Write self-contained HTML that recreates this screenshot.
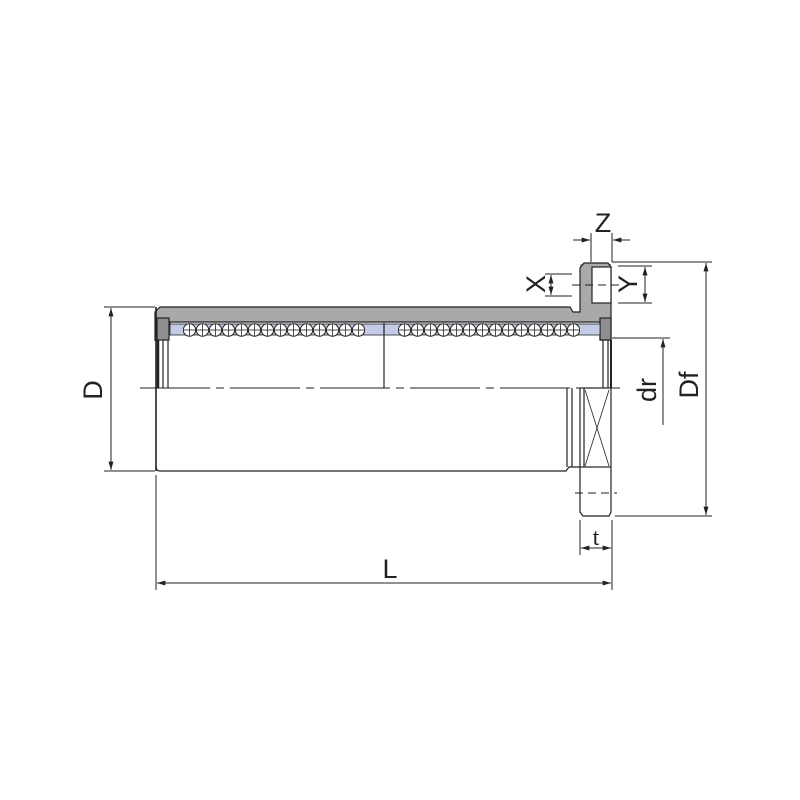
<!DOCTYPE html>
<html><head><meta charset="utf-8"><style>body{margin:0;background:#fff}svg{display:block}</style></head>
<body>
<svg width="800" height="800" viewBox="0 0 800 800" xmlns="http://www.w3.org/2000/svg" font-family="Liberation Sans, sans-serif">
<defs>
<pattern id="balls" x="183" y="323" width="13" height="14" patternUnits="userSpaceOnUse">
<circle cx="6.5" cy="7" r="6.2" fill="#fff" stroke="#222" stroke-width="1"/>
<line x1="6.5" y1="1" x2="6.5" y2="13" stroke="#222" stroke-width="0.8"/>
<line x1="0.5" y1="7" x2="12.5" y2="7" stroke="#222" stroke-width="0.8"/>
</pattern>
<pattern id="balls2" x="398" y="323" width="13" height="14" patternUnits="userSpaceOnUse">
<circle cx="6.5" cy="7" r="6.2" fill="#fff" stroke="#222" stroke-width="1"/>
<line x1="6.5" y1="1" x2="6.5" y2="13" stroke="#222" stroke-width="0.8"/>
<line x1="0.5" y1="7" x2="12.5" y2="7" stroke="#222" stroke-width="0.8"/>
</pattern>
<marker id="a" viewBox="0 0 10 6" refX="10" refY="3" markerWidth="9" markerHeight="5" orient="auto-start-reverse"><path d="M0,0 L10,3 L0,6 z" fill="#222"/></marker>
</defs>
<g stroke="#222" stroke-width="1.2" fill="none">
<rect x="580" y="264" width="31" height="58" fill="#a9a9ab" stroke="none"/>
<path d="M160,307 L570,307 L573,312 L580,312 L580,268 L584,263 L608,263 L611,267 L611,340 L600,340 L600,322 L170,322 L170,326 L155,340 L155,312 Z" fill="#a9a9ab"/>
<rect x="592" y="267" width="19" height="36" fill="#fff"/>
<rect x="157" y="318" width="12" height="22" fill="#8e8e90"/>
<rect x="600" y="318" width="11" height="22" fill="#8e8e90"/>
<rect x="170" y="324" width="430" height="11" fill="#c3cbe6" stroke-width="0.8"/>
<rect x="183" y="323" width="182" height="14" fill="url(#balls)" stroke="none"/>
<rect x="398" y="323" width="182" height="14" fill="url(#balls2)" stroke="none"/>
<line x1="156" y1="307" x2="156" y2="471" stroke-width="1.6"/>
<line x1="158" y1="340" x2="158" y2="388" stroke-width="2.5"/>
<line x1="163" y1="340" x2="163" y2="388"/>
<line x1="168" y1="340" x2="168" y2="388"/>
<line x1="384" y1="323" x2="384" y2="388"/>
<line x1="603" y1="340" x2="603" y2="388"/>
<line x1="608" y1="340" x2="608" y2="388"/>
<line x1="611" y1="340" x2="611" y2="388" stroke-width="2"/>
<path d="M156,466 Q156,471 160,471 L566,471 L569,467 L580,467"/>
<line x1="567" y1="388" x2="567" y2="467"/>
<line x1="572" y1="388" x2="572" y2="467"/>
<rect x="580" y="388" width="31" height="79"/>
<line x1="584" y1="388" x2="584" y2="467"/>
<line x1="585" y1="390" x2="609" y2="466" stroke-width="0.8"/>
<line x1="609" y1="390" x2="585" y2="466" stroke-width="0.8"/>
<path d="M580,467 L580,512 L583,516 L609,516 L611,512 L611,467"/>
<line x1="575" y1="493" x2="617" y2="493" stroke-dasharray="8,5" stroke-width="0.9"/>
<line x1="572" y1="285" x2="620" y2="285" stroke-dasharray="8,5" stroke-width="0.9"/>
<line x1="140" y1="388" x2="620" y2="388" stroke-dasharray="70,6,8,6" stroke-width="1"/>
<g stroke-width="1">
<line x1="104" y1="307" x2="155" y2="307"/><line x1="104" y1="471" x2="155" y2="471"/>
<line x1="111" y1="308" x2="111" y2="470" marker-start="url(#a)" marker-end="url(#a)"/>
<line x1="156" y1="475" x2="156" y2="590"/><line x1="612" y1="520" x2="612" y2="590"/>
<line x1="157" y1="583" x2="611" y2="583" marker-start="url(#a)" marker-end="url(#a)"/>
<line x1="580" y1="520" x2="580" y2="555"/>
<line x1="581" y1="548" x2="611" y2="548" marker-start="url(#a)" marker-end="url(#a)"/>
<line x1="612" y1="262" x2="712" y2="262"/><line x1="615" y1="516" x2="712" y2="516"/>
<line x1="706" y1="263" x2="706" y2="515" marker-start="url(#a)" marker-end="url(#a)"/>
<line x1="612" y1="338" x2="670" y2="338"/>
<line x1="663" y1="425" x2="663" y2="339" marker-end="url(#a)"/>
<line x1="591" y1="233" x2="591" y2="262"/><line x1="612" y1="233" x2="612" y2="262"/>
<line x1="573" y1="240" x2="590" y2="240" marker-end="url(#a)"/>
<line x1="630" y1="240" x2="613" y2="240" marker-end="url(#a)"/>
<line x1="545" y1="274" x2="572" y2="274"/><line x1="545" y1="296" x2="572" y2="296"/>
<line x1="551" y1="275" x2="551" y2="295" marker-start="url(#a)" marker-end="url(#a)"/>
<line x1="618" y1="266" x2="652" y2="266"/><line x1="618" y1="303" x2="652" y2="303"/>
<line x1="645" y1="267" x2="645" y2="302" marker-start="url(#a)" marker-end="url(#a)"/>
</g>
</g>
<g fill="#222" font-size="27">
<text x="390" y="578" text-anchor="middle">L</text>
<text x="596" y="545" text-anchor="middle" font-family="Liberation Serif, serif" font-size="24">t</text>
<text x="603" y="232" text-anchor="middle">Z</text>
<text transform="translate(102,390) rotate(-90)" text-anchor="middle">D</text>
<text transform="translate(698,385) rotate(-90)" text-anchor="middle">Df</text>
<text transform="translate(656,390) rotate(-90)" text-anchor="middle">dr</text>
<text transform="translate(545,284) rotate(-90)" text-anchor="middle">X</text>
<text transform="translate(637,284) rotate(-90)" text-anchor="middle">Y</text>
</g>
</svg>
</body></html>
